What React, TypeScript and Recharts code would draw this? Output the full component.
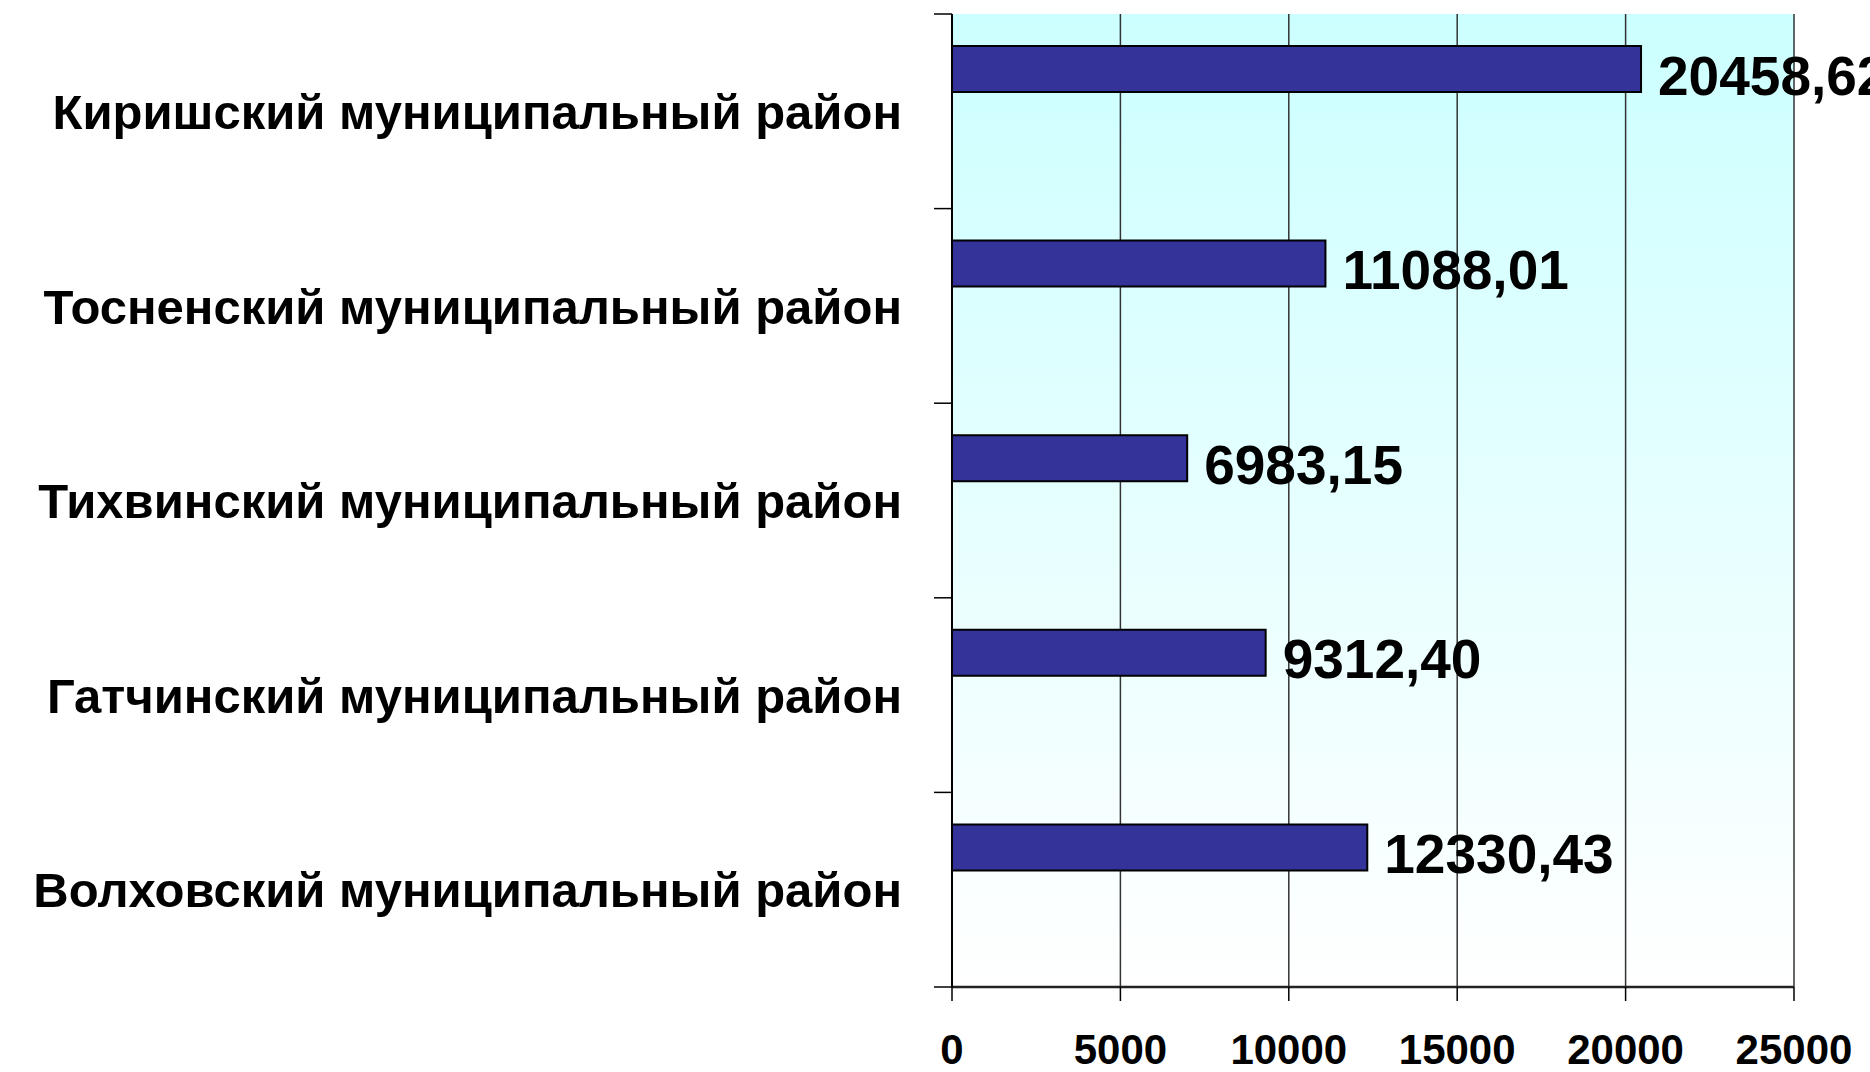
import {
  BarChart,
  Bar,
  XAxis,
  YAxis,
  CartesianGrid,
  LabelList,
} from "recharts";

const districts = [
  "Киришский муниципальный район",
  "Тосненский муниципальный район",
  "Тихвинский муниципальный район",
  "Гатчинский муниципальный район",
  "Волховский муниципальный район",
];
const values = [20458.62, 11088.01, 6983.15, 9312.4, 12330.43];
// second (empty) series, it only takes its slot in each band as in the original
const emptySeries = [null, null, null, null, null];
const xTicks = [0, 5000, 10000, 15000, 20000, 25000];

const font = "'Liberation Sans', Arial, sans-serif";

const data = districts.map((name, i) => ({
  name,
  value: values[i],
  other: emptySeries[i],
}));

const formatValue = (v: number) => v.toFixed(2).replace(".", ",");

// label in the middle of the band, tick marks on the band edges (as in Excel)
function DistrictTick(props: any) {
  const { x, y, payload, height, visibleTicksCount, index } = props;
  const half = height / visibleTicksCount / 2;
  return (
    <g>
      <line x1={x - 18} x2={x} y1={y - half} y2={y - half} stroke="#000" strokeWidth={1.5} />
      {index === visibleTicksCount - 1 && (
        <line x1={x - 18} x2={x} y1={y + half} y2={y + half} stroke="#000" strokeWidth={1.5} />
      )}
      <text
        x={x - 50}
        y={y}
        dy="0.36em"
        textAnchor="end"
        fontFamily={font}
        fontWeight="bold"
        fontSize={49}
        fill="#000"
      >
        {payload.value}
      </text>
    </g>
  );
}

export default function App() {
  return (
    <div style={{ width: 1870, height: 1072, background: "#fff" }}>
      <style>{`body{margin:0}`}</style>
      <BarChart
        width={1870}
        height={1072}
        data={data}
        layout="vertical"
        margin={{ top: 14, right: 76, bottom: 0, left: 0 }}
        barSize={46}
        barGap={39}
      >
        <defs>
          <linearGradient id="plotBg" x1="0" y1="0" x2="0" y2="1">
            <stop offset="0%" stopColor="#ccffff" />
            <stop offset="100%" stopColor="#ffffff" />
          </linearGradient>
        </defs>
        <CartesianGrid
          xAxisId="val"
          yAxisId="names"
          horizontal={false}
          stroke="#333"
          strokeWidth={1.5}
          fill="url(#plotBg)"
        />
        <XAxis
          xAxisId="val"
          type="number"
          domain={[0, 25000]}
          ticks={xTicks}
          interval={0}
          height={85}
          tickSize={14}
          tickMargin={33}
          axisLine={{ stroke: "#222", strokeWidth: 2.5 }}
          tickLine={{ stroke: "#000", strokeWidth: 1.5 }}
          tick={{ fontFamily: font, fontWeight: "bold", fontSize: 42, fill: "#000" }}
        />
        <XAxis
          xAxisId="top"
          orientation="top"
          type="number"
          domain={[0, 25000]}
          height={0}
          tick={false}
          tickLine={false}
          axisLine={{ stroke: "#888", strokeWidth: 2 }}
        />
        <YAxis
          yAxisId="names"
          type="category"
          dataKey="name"
          width={952}
          tickSize={0}
          tickMargin={0}
          interval={0}
          tickLine={false}
          axisLine={{ stroke: "#000", strokeWidth: 2 }}
          tick={<DistrictTick />}
        />
        <YAxis
          yAxisId="zedge"
          orientation="right"
          type="category"
          dataKey="name"
          width={0}
          tick={false}
          tickLine={false}
          axisLine={{ stroke: "#888", strokeWidth: 2 }}
        />
        <Bar
          xAxisId="val"
          yAxisId="names"
          dataKey="value"
          fill="#333399"
          stroke="#000"
          strokeWidth={2}
          isAnimationActive={false}
        >
          <LabelList
            dataKey="value"
            position="right"
            offset={17}
            formatter={(v: any) => formatValue(Number(v))}
            fontFamily={font}
            fontWeight="bold"
            fontSize={55}
            fill="#000"
            dy={6}
          />
        </Bar>
        <Bar
          xAxisId="val"
          yAxisId="names"
          dataKey="other"
          fill="#333399"
          isAnimationActive={false}
        />
      </BarChart>
    </div>
  );
}
